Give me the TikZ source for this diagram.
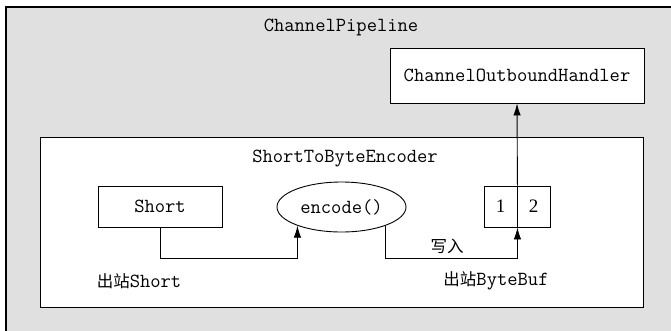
\documentclass[tikz,border=0pt]{standalone}
\usepackage{fontspec}
\setmainfont{Liberation Serif}
\newfontfamily\cjk{Noto Sans CJK SC}
\usepackage{tikz}
\usetikzlibrary{shapes,calc,positioning,arrows.meta}
\definecolor{pipegray}{gray}{0.88}

\begin{document}
\begin{tikzpicture}[x=1pt,y=-1pt,line width=0.9pt,
    every node/.style={font=\ttfamily\fontsize{20}{22}\selectfont, inner sep=0pt},
    box/.style={draw, fill=white, rectangle},
    cell/.style={draw, fill=white, rectangle, minimum width=33pt, minimum height=41pt,
      font=\rmfamily\fontsize{19}{20}\selectfont},
    flow/.style={-{Latex[length=12pt,width=7.5pt]}}]
    \useasboundingbox (0,0) rectangle (671,330);
    \fill[white] (0,0) rectangle (671,330);
    % pipeline frame
    \draw[fill=pipegray, line width=1.6pt] (6,7) rectangle (690,350);
    \node (pipeline) at (341,27) {ChannelPipeline};
    \node[box, minimum width=254pt, minimum height=55pt] (handler) at (517,75.5) {ChannelOutboundHandler};
    % encoder
    \node[box, minimum width=603pt, minimum height=170pt] (encoder) at (341.5,222) {};
    \node (enctitle) at (345,159) {ShortToByteEncoder};
    \node[box, minimum width=124pt, minimum height=41pt] (short) at (160,206.5) {Short};
    \node[draw, fill=white, ellipse, minimum width=129pt, minimum height=50pt] (encode) at (341.5,207) {encode()};
    \node[cell] (b1) at (500.5,206.5) {1};
    \node[cell] (b2) at (533.5,206.5) {2};
    \node (outshort) at (139,281) {{\cjk\fontsize{16.5}{20}\selectfont 出站}Short};
    \node (outbuf) at (496,281) {{\cjk\fontsize{16.5}{20}\selectfont 出站}ByteBuf};
    \node[font=\cjk\fontsize{16.5}{20}\selectfont] (write) at (447,246) {写入};
    \coordinate (j1) at (160,258);
    \coordinate (j2) at (encode.337 |- j1);
    \draw[flow] (short.south) -- (j1) -| (encode.203);
    \draw[flow] (encode.337) -- (j2) -| (b1.south east);
    \draw[flow] (b1.north east) -- (handler.south);
\end{tikzpicture}
\end{document}
